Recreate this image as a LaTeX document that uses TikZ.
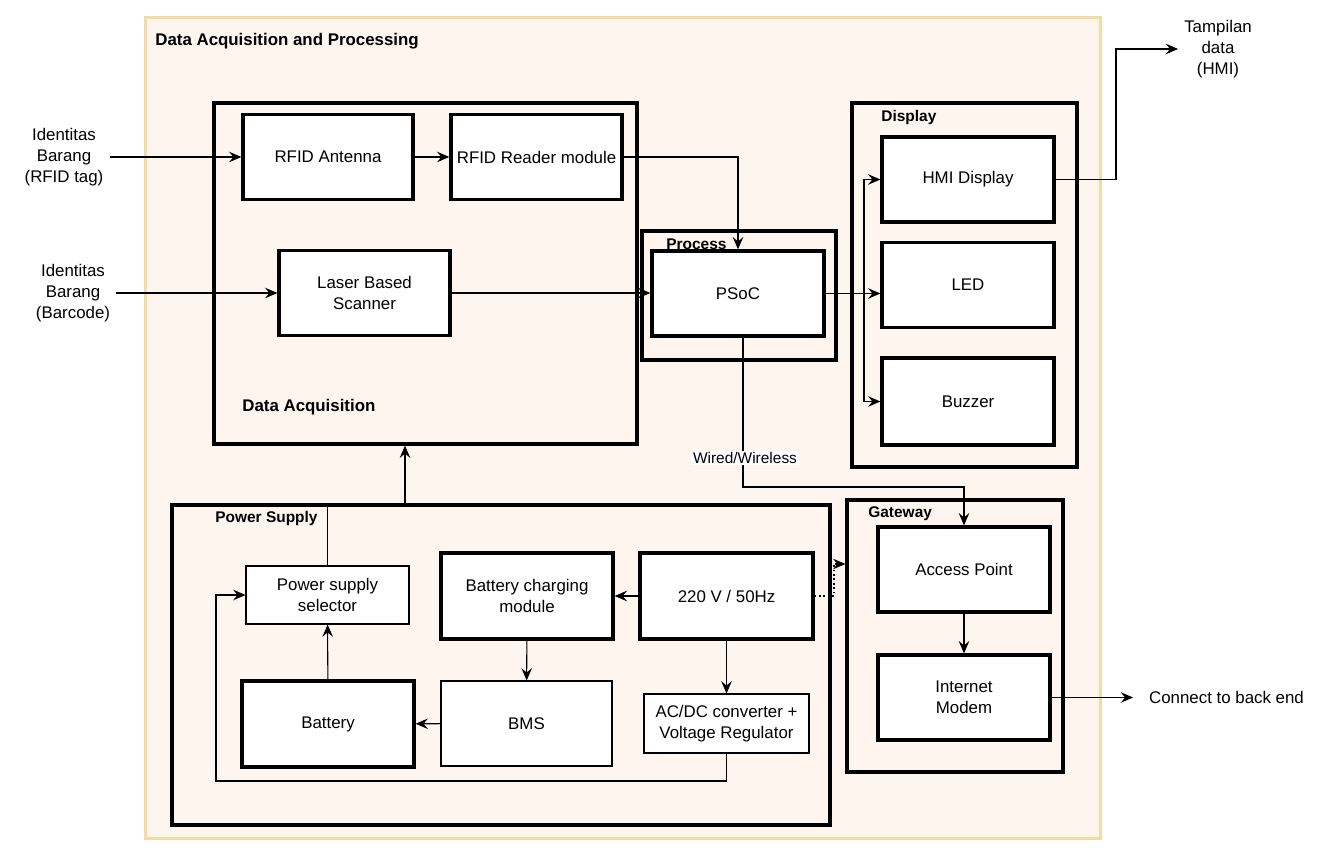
\documentclass[tikz,border=0pt]{standalone}
\usepackage{fontspec}
\setmainfont{Liberation Sans}
\usetikzlibrary{arrows.meta,positioning}
\definecolor{peach}{RGB}{254,245,238}
\definecolor{sand}{RGB}{243,219,164}

\tikzset{
  blk/.style={draw,line width=1.9pt,fill=white,minimum width=3.42cm,minimum height=1.7cm,
    align=center,font=\fontsize{9.6}{12}\selectfont},
  thinblk/.style={blk,line width=0.6pt},
  grp/.style={draw,line width=1.9pt},
  grptitle/.style={anchor=west,inner sep=0pt,font=\fontsize{9.6}{12}\selectfont\bfseries},
  subtitle/.style={grptitle,font=\fontsize{8.8}{10.5}\selectfont\bfseries},
  lbl/.style={align=center,font=\fontsize{9.6}{12}\selectfont},
  arr/.style={line width=0.6pt,-{Stealth[length=7pt,width=6pt,inset=2.5pt]}},
  wire/.style={line width=0.6pt}
}

\begin{document}
\begin{tikzpicture}[x=0.02cm,y=-0.02cm]
  \useasboundingbox (0,0) rectangle (1335,857);

  % containers
  \node[draw=sand,line width=1.7pt,fill=peach,minimum width=19.12cm,minimum height=16.44cm] (main) at (623,428) {};
  \node[grptitle] (maint) at (155,41) {Data Acquisition and Processing};
  \node[grp,minimum width=8.46cm,minimum height=6.82cm] (daq) at (425.5,273.5) {};
  \node[grptitle] (daqt) at (242,407) {Data Acquisition};
  \node[grp,minimum width=3.88cm,minimum height=2.58cm] (proc) at (739,295.5) {};
  \node[subtitle] (proct) at (666,244) {Process};
  \node[grp,minimum width=4.5cm,minimum height=7.28cm] (disp) at (964.5,285) {};
  \node[subtitle] (dispt) at (881,118) {Display};
  \node[grp,minimum width=4.32cm,minimum height=5.44cm] (gw) at (955,636) {};
  \node[subtitle] (gwt) at (868,514) {Gateway};
  \node[grp,minimum width=13.16cm,minimum height=6.4cm] (ps) at (501,665) {};
  \node[subtitle] (pst) at (215,519) {Power Supply};

  % blocks
  \node[blk,minimum width=3.4cm] (ant) at (328,157) {RFID Antenna};
  \node[blk] (rdr) at (536.5,157) {RFID Reader module};
  \node[blk] (lsr) at (364.5,293) {Laser Based\\Scanner};
  \node[blk,minimum width=3.44cm] (psoc) at (738,293.5) {PSoC};
  \node[blk,minimum width=3.44cm] (hmi) at (968,179.5) {HMI Display};
  \node[blk,minimum width=3.44cm] (led) at (968,285) {LED};
  \node[blk,minimum width=3.44cm,minimum height=1.74cm] (buz) at (968,401.5) {Buzzer};
  \node[blk,minimum width=3.44cm] (ap) at (964,569.5) {Access Point};
  \node[blk,minimum width=3.44cm] (mdm) at (964,697.5) {Internet\\Modem};
  \node[thinblk,minimum width=3.26cm,minimum height=1.16cm] (sel) at (327.5,595) {Power supply\\selector};
  \node[blk,minimum width=3.44cm,minimum height=1.72cm] (chg) at (527,596) {Battery charging\\module};
  \node[blk,minimum width=3.46cm,minimum height=1.72cm] (ac) at (726.5,596) {220 V / 50Hz};
  \node[blk,minimum width=3.44cm,minimum height=1.72cm] (bat) at (328,724) {Battery};
  \node[thinblk] (bms) at (526.5,723.5) {BMS};
  \node[thinblk,minimum width=3.3cm,minimum height=1.18cm] (acdc) at (726.5,723.5) {AC/DC converter +\\Voltage Regulator};

  % outside texts
  \node[lbl] (tag) at (64,157) {Identitas\\Barang\\(RFID tag)};
  \node[lbl] (bar) at (73,293) {Identitas\\Barang\\(Barcode)};
  \node[lbl] (tamp) at (1218,49) {Tampilan\\data\\(HMI)};
  \node[lbl,anchor=west,inner xsep=9pt] (back) at (1133,697.5) {Connect to back end};

  % helper points
  \coordinate (split) at (864,293.5);
  \coordinate (hmiturn) at (1116,0);
  \coordinate (wlturn) at (743,487);
  \coordinate (psup) at (405,505);
  \coordinate (dotup) at (834,564);
  \coordinate (loop) at (216,781);

  % data path
  \draw[arr] (tag.east) -- (ant.west);
  \draw[arr] (ant) -- (rdr);
  \draw[arr] (rdr.east) -| (psoc.north);
  \draw[arr] (bar.east) -- (bar.east -| lsr.west);
  \draw[arr] (lsr.east) -- (lsr.east -| psoc.west);
  \draw[wire] (psoc.east) -- (split);
  \draw[arr] (split) |- (hmi.west);
  \draw[arr] (split) -- (split -| led.west);
  \draw[arr] (split) |- (buz.west);
  \draw[arr] (hmi.east) -- (hmi.east -| hmiturn) |- (tamp.west);
  \draw[arr] (psoc.south -| wlturn) -- (wlturn) -- (wlturn -| ap.north) -- (ap.north);
  \node[lbl,fill=white,inner sep=1pt,font=\fontsize{8.8}{10}\selectfont] (wl) at (745,458) {Wired/Wireless};
  \draw[arr] (ap) -- (mdm);
  \draw[arr] (mdm.east) -- (back.west);

  % power path
  \draw[arr] (sel.north) |- (psup) -- (psup |- daq.south);
  \draw[arr] (ac) -- (chg);
  \draw[arr] (chg) -- (bms);
  \draw[arr] (ac) -- (acdc);
  \draw[arr] (bms) -- (bat);
  \draw[arr] (bat) -- (sel);
  \draw[arr] (acdc.south) |- (loop) |- (sel.west);
  \draw[arr,dash pattern=on 1pt off 1.5pt] (ac.east) -| (dotup) -- (dotup -| gw.west);
\end{tikzpicture}
\end{document}
